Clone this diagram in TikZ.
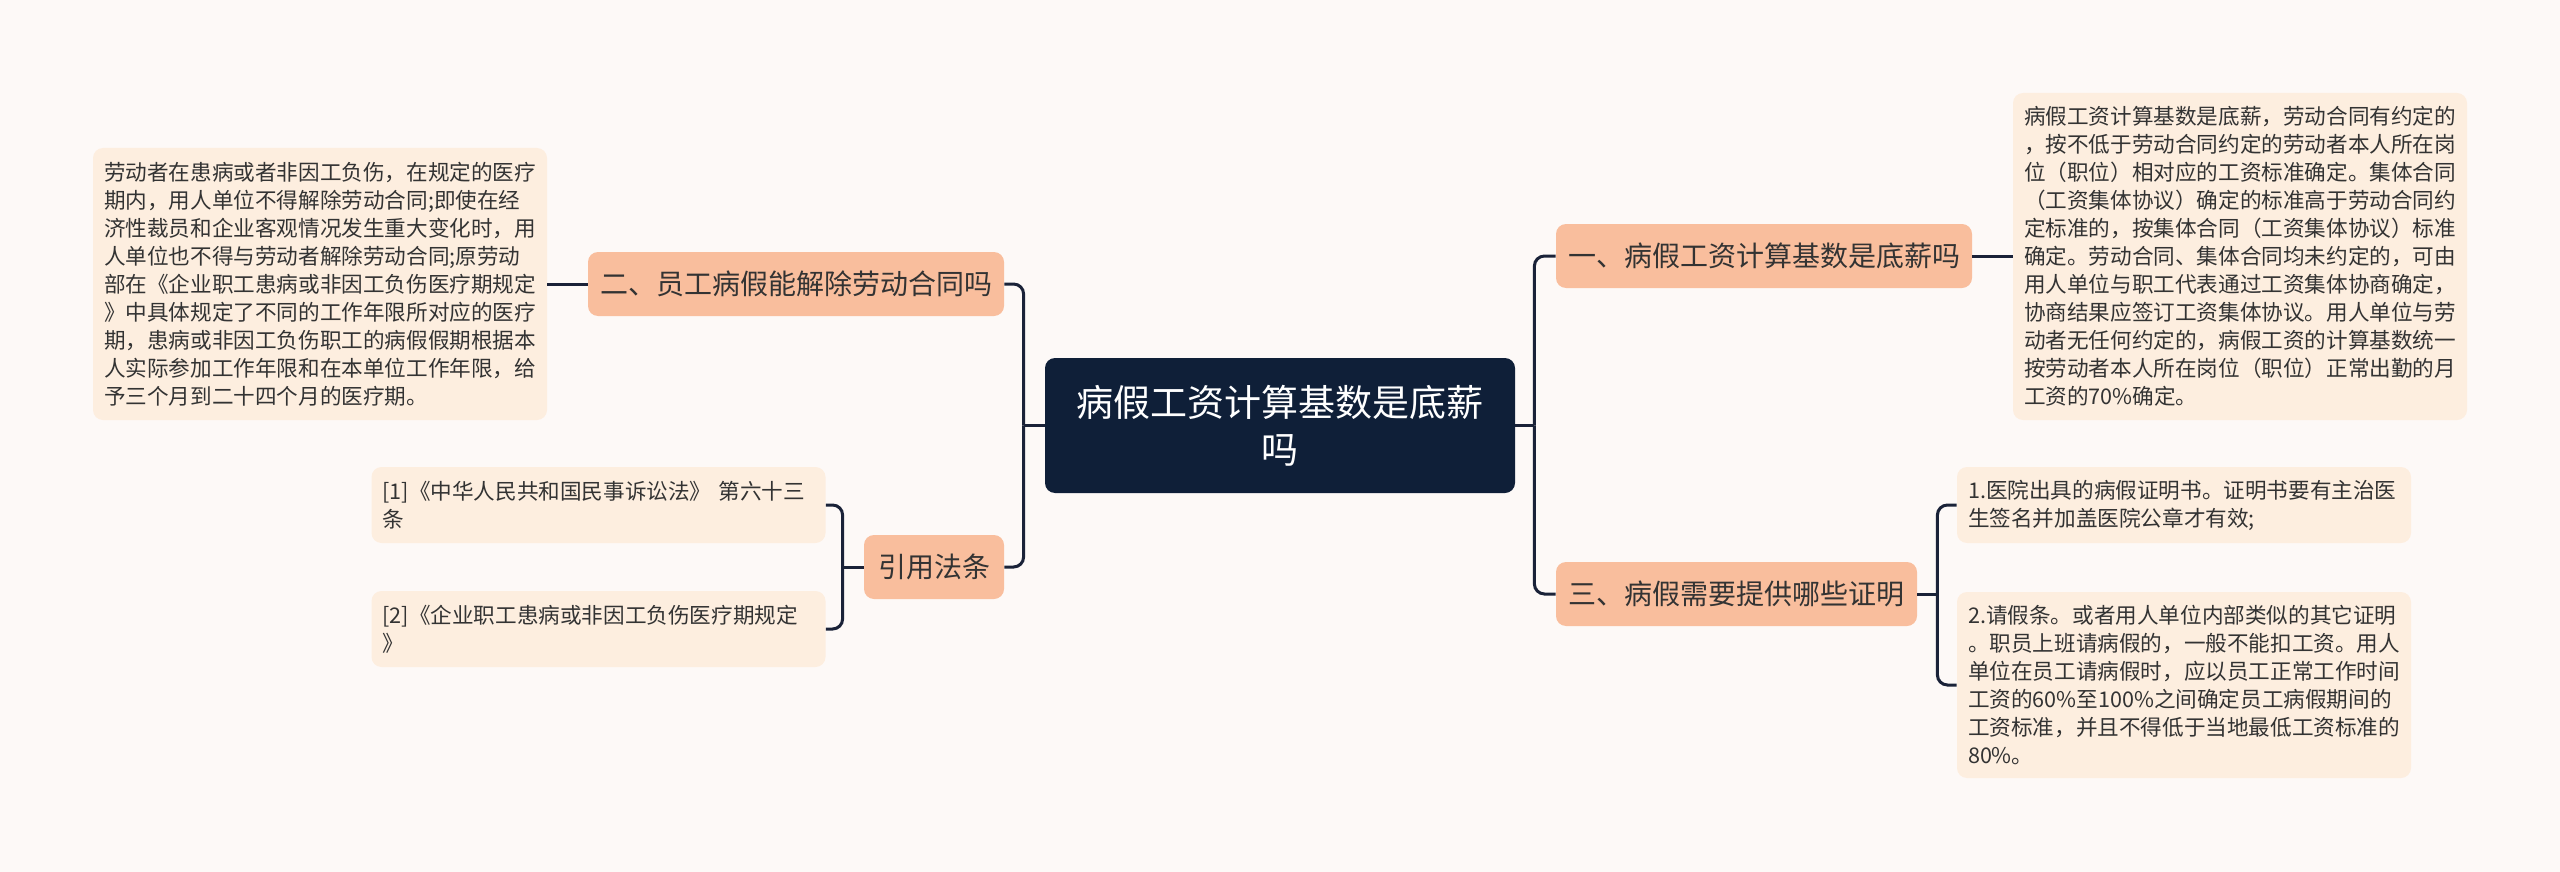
\documentclass[tikz,border=0pt]{standalone}
\usepackage{fontspec}
\setmainfont{Noto Sans CJK SC}
\usepackage{tikz}
\usetikzlibrary{positioning,calc}
\definecolor{paper}{HTML}{FDF9F7}
\definecolor{navy}{HTML}{0F1F38}
\definecolor{wire}{HTML}{1A2238}
\definecolor{salmon}{HTML}{F9BE9D}
\definecolor{cream}{HTML}{FDEEDF}
\definecolor{ink}{HTML}{333333}
\tikzset{
  root/.style={fill=navy,rounded corners=5pt,text=white,align=center,minimum width=235pt,minimum height=67.5pt,font=\fontsize{18.5pt}{23.5pt}\selectfont},
  topic/.style={fill=salmon,rounded corners=5pt,text=ink,minimum height=32pt,inner xsep=0pt,font=\fontsize{14pt}{17pt}\selectfont},
  note/.style={fill=cream,rounded corners=5pt,text=ink,align=left,text width=216pt,inner xsep=5.5pt,inner ysep=3pt,font=\fontsize{10.8pt}{14pt}\selectfont},
  link/.style={draw=wire,line width=1.5pt,rounded corners=5pt},
}

\begin{document}
\begin{tikzpicture}[x=0.5pt,y=-0.5pt]
    \fill[paper] (0,0) rectangle (2560,872);
    \useasboundingbox (0,0) rectangle (2560,872);
    % main topics
    \node[root] (root) at (1280,425.5) {病假工资计算基数是底薪\\吗};
    \node[topic,minimum width=208pt] (wage) at (1764,256) {一、病假工资计算基数是底薪吗};
    \node[topic,minimum width=180.5pt] (proof) at (1736.5,594) {三、病假需要提供哪些证明};
    \node[topic,minimum width=208pt] (fire) at (796,284) {二、员工病假能解除劳动合同吗};
    \node[topic,minimum width=70pt] (law) at (934,567) {引用法条};
    % notes
    \node[note,minimum height=136pt] (fireTxt) at (320,284) {劳动者在患病或者非因工负伤，在规定的医疗\\期内，用人单位不得解除劳动合同;即使在经\\济性裁员和企业客观情况发生重大变化时，用\\人单位也不得与劳动者解除劳动合同;原劳动\\部在《企业职工患病或非因工负伤医疗期规定\\》中具体规定了不同的工作年限所对应的医疗\\期，患病或非因工负伤职工的病假假期根据本\\人实际参加工作年限和在本单位工作年限，给\\予三个月到二十四个月的医疗期。};
    \node[note,minimum height=163.5pt] (wageTxt) at (2240,256.5) {病假工资计算基数是底薪，劳动合同有约定的\\，按不低于劳动合同约定的劳动者本人所在岗\\位（职位）相对应的工资标准确定。集体合同\\（工资集体协议）确定的标准高于劳动合同约\\定标准的，按集体合同（工资集体协议）标准\\确定。劳动合同、集体合同均未约定的，可由\\用人单位与职工代表通过工资集体协商确定，\\协商结果应签订工资集体协议。用人单位与劳\\动者无任何约定的，病假工资的计算基数统一\\按劳动者本人所在岗位（职位）正常出勤的月\\工资的70\%确定。};
    \node[note,minimum height=38pt] (proofA) at (2184,505) {1.医院出具的病假证明书。证明书要有主治医\\生签名并加盖医院公章才有效;};
    \node[note,minimum height=93pt] (proofB) at (2184,685) {2.请假条。或者用人单位内部类似的其它证明\\。职员上班请病假的，一般不能扣工资。用人\\单位在员工请病假时，应以员工正常工作时间\\工资的60\%至100\%之间确定员工病假期间的\\工资标准，并且不得低于当地最低工资标准的\\80\%。};
    \node[note,minimum height=38pt] (lawA) at (598.5,505) {[1]《中华人民共和国民事诉讼法》 第六十三\\条};
    \node[note,minimum height=38pt] (lawB) at (598.5,629) {[2]《企业职工患病或非因工负伤医疗期规定\\》};
    % connectors
    \coordinate (rj) at ([xshift=9.5pt]root.east);
    \coordinate (lj) at ([xshift=-10.5pt]root.west);
    \coordinate (pj) at ([xshift=10pt]proof.east);
    \coordinate (cj) at ([xshift=-10.5pt]law.west);
    \draw[link] (root.east) -- (rj);
    \draw[link] (rj) |- (wage.west);
    \draw[link] (rj) |- (proof.west);
    \draw[link] (root.west) -- (lj);
    \draw[link] (lj) |- (fire.east);
    \draw[link] (lj) |- (law.east);
    \draw[link] (wage.east) -- (wage.east -| wageTxt.west);
    \draw[link] (fire.west) -- (fire.west -| fireTxt.east);
    \draw[link] (proof.east) -- (pj);
    \draw[link] (pj) |- (proofA.west);
    \draw[link] (pj) |- (proofB.west);
    \draw[link] (law.west) -- (cj);
    \draw[link] (cj) |- (lawA.east);
    \draw[link] (cj) |- (lawB.east);
\end{tikzpicture}
\end{document}
